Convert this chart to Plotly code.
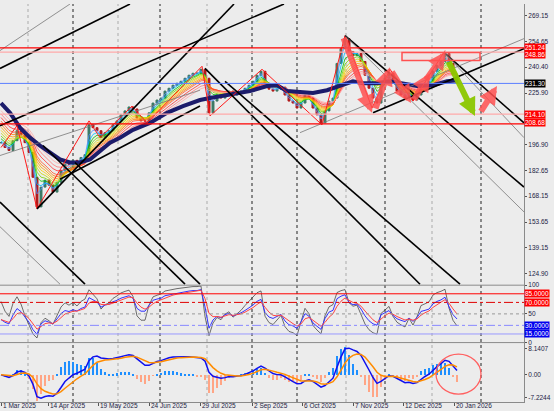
import numpy as np
import pandas as pd
import plotly.graph_objects as go
from plotly.subplots import make_subplots

# ---------------- data (bar index = trading day from 1 Mar 2025) ----------------
bar_index = list(range(0, 230, 2))
closes = [198.1, 195.4, 193.7, 199.2, 204.8, 202.6, 198.1, 192.6, 178.7, 162.1,
          173.2, 177.1, 174.3, 170.4, 175.9, 182.6, 187.0, 185.9, 188.2, 187.0,
          189.8, 191.4, 208.1, 206.5, 204.8, 200.9, 203.7, 204.8, 208.1, 210.3,
          213.7, 215.9, 218.1, 217.0, 212.0, 210.3, 210.3, 214.8, 220.3, 222.0,
          223.1, 227.0, 228.6, 230.3, 231.4, 232.5, 234.2, 235.9, 237.0, 237.0,
          239.2, 234.2, 214.8, 221.4, 224.8, 223.1, 225.9, 227.0, 224.8, 225.9,
          227.0, 228.6, 230.3, 232.5, 235.9, 238.1, 231.4, 228.1, 227.0, 228.1,
          229.2, 224.8, 221.4, 220.3, 217.5, 220.3, 224.8, 223.1, 217.5, 213.7,
          209.2, 215.9, 221.4, 223.1, 242.5, 250.8, 256.4, 249.2, 247.0, 248.1,
          243.6, 235.9, 228.6, 223.1, 220.3, 231.4, 234.2, 237.0, 231.4, 227.0,
          224.8, 223.1, 225.9, 222.0, 224.8, 230.3, 231.4, 232.5, 238.1, 241.4,
          243.6, 248.1, 242.5, 235.9, 231.3]

navy_index = [0, 4.5, 9.5, 14.5, 19.5, 24.5, 29.5, 34.5, 39.5, 44.5, 49.5, 54.5, 59.5,
              66, 74.5, 83, 91, 99.5, 104.5, 109.5, 114.5, 119.5, 124.5, 133, 138, 143,
              149.5, 156, 163, 169.5, 176, 181, 188, 194.5, 199.5, 208, 216, 223, 228.5]
navy_values = [220.3, 214.8, 206.5, 200.9, 196.5, 192.6, 188.7, 187.0, 187.0, 188.7,
               193.7, 198.1, 200.9, 205.3, 209.2, 214.8, 218.6, 222.0, 223.1, 224.2,
               224.8, 225.9, 227.0, 229.8, 230.3, 227.0, 226.4, 225.9, 227.5, 229.8,
               232.5, 231.4, 231.4, 232.5, 231.4, 229.8, 230.3, 232.5, 233.1]

date_tick_index = [0, 23.5, 48.5, 74, 99.5, 125.5, 150.5, 176, 201, 226.5]
date_tick_labels = ["1 Mar 2025", "14 Apr 2025", "19 May 2025", "24 Jun 2025", "29 Jul 2025",
                    "2 Sep 2025", "6 Oct 2025", "7 Nov 2025", "12 Dec 2025", "20 Jan 2026"]

price_ticks = [269.15, 254.65, 240.40, 225.90, 196.90, 182.65, 168.15, 153.65, 139.15, 124.90]
level_lines = {"251.24": 251.24, "248.86": 248.86, "214.10": 214.10, "208.68": 208.68}
level_label_shift = {"251.24": 0, "248.86": -2, "214.10": 0, "208.68": 1}
last_price = 231.30
osc_levels = [85, 70, 50, 30, 15]
macd_ticks = [8.1407, 0.0, -7.2244]

sep_dark = [36, 79.5, 125.5, 148, 192, 240]
sep_light = [13.5, 58.5, 103, 172.5, 215.5]

# trendlines: (idx0, price0, idx1, price1)
thick_lines = [(-0.5, 207.6, 141.5, 275.8), (18, 161.0, 116.5, 275.8), (186, 214.8, 261.5, 250.8),
               (29.5, 177.6, 99.5, 218.6), (-0.5, 239.7, 64.5, 275.8),
               (21, 196.5, 92, 118.8), (172, 258.1, 261.5, 173.2), (222, 248.1, 261.5, 209.2),
               (102, 239.7, 209.5, 118.8), (112, 232.5, 229.5, 118.8),
               (-0.5, 164.8, 42, 118.8), (37, 187.0, 99.5, 118.8)]
thin_lines = [(-0.5, 190.9, 99.5, 227.5), (172, 258.1, 261.5, 159.3), (222, 248.1, 261.5, 200.9),
              (149.5, 203.7, 261.5, 256.4), (-0.5, 249.7, 34.5, 275.8), (-0.5, 151.0, 29.5, 118.8)]

zig_index = [0, 8, 18, 44, 49.5, 65.5, 73, 100.5, 104.5, 130.5, 160.5, 172, 185.5, 194.5, 206, 222]
zig_price = [195.4, 207.6, 161.0, 210.3, 200.9, 218.6, 209.2, 240.9, 213.1, 239.2, 208.1,
             258.1, 217.5, 239.2, 221.4, 249.7]

# arrows: (tail_idx, tail_price, head_idx, head_price, colour)
arrows = [(171, 257.5, 185.5, 214.8, "red"), (187, 216.4, 194.5, 240.3, "red"),
          (195, 238.6, 205, 220.3, "red"), (206, 221.4, 214.5, 237.0, "red"),
          (212, 232.5, 222.5, 249.2, "red"), (223.5, 244.2, 237, 213.1, "green"),
          (239.5, 214.8, 248, 229.8, "red")]
box_zone = (200.5, 239.5, 244.2, 248.6)
circle_zone = (217.5, 240, -6.1, 6.45)

# ---------------- derived indicators ----------------
c = np.array(closes)
opens = np.concatenate([[c[0]], c[:-1]])
highs = np.maximum(opens, c)
lows = np.minimum(opens, c)

def ema(arr, span, seed):
    a = 2.0 / (span + 1)
    out, e = [], seed
    for v in arr:
        e = e + a * (v - e)
        out.append(e)
    return np.array(out)

def rsi(arr, n):
    d = np.diff(arr, prepend=arr[0])
    up, dn = np.clip(d, 0, None), np.clip(-d, 0, None)
    au, ad = up[1:n + 1].mean() + 1e-9, dn[1:n + 1].mean() + 1e-9
    out = []
    for u, w in zip(up, dn):
        au = (au * (n - 1) + u) / n
        ad = (ad * (n - 1) + w) / n
        out.append(100 - 100 / (1 + au / ad))
    return np.array(out)

ribbon_spans = [2, 3, 4, 5, 6, 7, 8, 9, 10, 12, 14, 16]
ribbon_colors = ["#4f8dff", "#00bfff", "#00c000", "#7ad400", "#c8d800", "#ffd000",
                 "#ffa500", "#ff8000", "#ff5a30", "#ff3030", "#ff7a7a", "#ffaaaa"]

rsi_fast = rsi(c, 4)
rsi_mid = rsi(c, 7)
rsi_slow = ema(rsi_mid, 3, rsi_mid[0])

macd_line = ema(c, 6, c[0]) - ema(c, 13, c[0])
signal_line = ema(macd_line, 5, 0.0)
hist = (macd_line - signal_line) * 2

# ---------------- figure ----------------
BG = "#ececec"
fig = make_subplots(rows=3, cols=1, shared_xaxes=True, vertical_spacing=0,
                    row_heights=[284, 58, 60])

for k, (sp, col) in enumerate(zip(ribbon_spans, ribbon_colors)):
    seed = navy_values[0] + (c[0] - navy_values[0]) * (1 - k / len(ribbon_spans))
    fig.add_trace(go.Scatter(x=bar_index, y=ema(c, sp, seed), mode="lines",
                             line=dict(color=col, width=0.8), hoverinfo="skip"), 1, 1)

fig.add_trace(go.Scatter(x=navy_index, y=navy_values, mode="lines",
                         line=dict(color="#1c1c6b", width=4)), 1, 1)

fig.add_trace(go.Candlestick(x=bar_index, open=opens, high=highs, low=lows, close=c,
                             increasing=dict(line=dict(color="#3d7a66", width=1), fillcolor="#3d7a66"),
                             decreasing=dict(line=dict(color="#b01c1c", width=1), fillcolor="#b01c1c"),
                             whiskerwidth=0), 1, 1)

fig.add_trace(go.Scatter(x=zig_index, y=zig_price, mode="lines",
                         line=dict(color="#ff1a1a", width=1)), 1, 1)

# oscillator panel
fig.add_trace(go.Scatter(x=bar_index, y=rsi_fast, mode="lines", line=dict(color="#333333", width=0.7)), 2, 1)
fig.add_trace(go.Scatter(x=bar_index, y=rsi_mid, mode="lines", line=dict(color="#3333ff", width=1)), 2, 1)
fig.add_trace(go.Scatter(x=bar_index, y=rsi_slow, mode="lines", line=dict(color="#ff4444", width=1)), 2, 1)

# macd panel
fig.add_trace(go.Bar(x=bar_index, y=hist, marker_color=["#1e8fff" if h >= 0 else "#ffa585" for h in hist],
                     marker_line_width=0, width=1.0), 3, 1)
fig.add_trace(go.Scatter(x=bar_index, y=macd_line, mode="lines", line=dict(color="#1010ee", width=1.5)), 3, 1)
fig.add_trace(go.Scatter(x=bar_index, y=signal_line, mode="lines", line=dict(color="#ff8c00", width=1.5)), 3, 1)

shapes = []
for x in sep_dark:
    shapes.append(dict(type="line", xref="x", yref="paper", x0=x, x1=x, y0=0, y1=1,
                       line=dict(color="#222222", width=1, dash="dot"), layer="below"))
for x in sep_light:
    shapes.append(dict(type="line", xref="x", yref="paper", x0=x, x1=x, y0=0, y1=1,
                       line=dict(color="#aaaaaa", width=1, dash="dot"), layer="below"))

for (x0, y0, x1, y1) in thick_lines:
    shapes.append(dict(type="line", xref="x", yref="y", x0=x0, y0=y0, x1=x1, y1=y1,
                       line=dict(color="black", width=1.6)))
for (x0, y0, x1, y1) in thin_lines:
    shapes.append(dict(type="line", xref="x", yref="y", x0=x0, y0=y0, x1=x1, y1=y1,
                       line=dict(color="#777777", width=0.8)))

lv_colors = {"251.24": "#ff0000", "248.86": "#ffaaaa", "214.10": "#ffaaaa", "208.68": "#ff0000"}
for k, v in level_lines.items():
    shapes.append(dict(type="line", xref="x domain", yref="y", x0=0, x1=1, y0=v, y1=v,
                       line=dict(color=lv_colors[k], width=1.3)))
shapes.append(dict(type="line", xref="x domain", yref="y", x0=0, x1=1, y0=last_price, y1=last_price,
                   line=dict(color="#5b7fff", width=1)))

shapes.append(dict(type="rect", xref="x", yref="y", x0=box_zone[0], x1=box_zone[1],
                   y0=box_zone[2], y1=box_zone[3], line=dict(color="#ff5050", width=1.5),
                   fillcolor="rgba(255,200,200,0.25)"))

osc_styles = {85: ("#ff0000", "solid"), 70: ("#e00000", "dashdot"), 50: ("#999999", "dot"),
              30: ("#8888ff", "dashdot"), 15: ("#9999ff", "solid")}
for lv in osc_levels:
    col, dash = osc_styles[lv]
    shapes.append(dict(type="line", xref="x2 domain", yref="y2", x0=0, x1=1, y0=lv, y1=lv,
                       line=dict(color=col, width=1, dash=dash)))

shapes.append(dict(type="circle", xref="x3", yref="y3", x0=circle_zone[0], x1=circle_zone[1],
                   y0=circle_zone[2], y1=circle_zone[3], line=dict(color="#ff6060", width=1.3)))

# panel separators
for yd in [0.2935, 0.1493]:
    shapes.append(dict(type="line", xref="paper", yref="paper", x0=0, x1=1, y0=yd, y1=yd,
                       line=dict(color="#8a8a8a", width=1)))

annotations = []
for (tx, ty, hx, hy, col) in arrows:
    colr = "rgba(255,80,80,0.85)" if col == "red" else "rgba(140,200,0,0.95)"
    annotations.append(dict(x=hx, y=hy, ax=tx, ay=ty, xref="x", yref="y", axref="x", ayref="y",
                            text="", showarrow=True, arrowhead=2, arrowsize=0.6,
                            arrowwidth=6, arrowcolor=colr))

FONT = "Liberation Sans"
FS = 6.5
for k, v in level_lines.items():
    annotations.append(dict(x=1, y=v, xref="paper", yref="y", xanchor="left", xshift=0,
                            yshift=level_label_shift[k],
                            text=k, showarrow=False, bgcolor="#ff0000",
                            font=dict(color="white", size=FS, family=FONT), borderpad=0))
annotations.append(dict(x=1, y=last_price, xref="paper", yref="y", xanchor="left",
                        text="231.30", showarrow=False, bgcolor="black",
                        font=dict(color="white", size=FS, family=FONT), borderpad=0))
osc_label_bg = {85: "#ff0000", 70: "#ff0000", 30: "#0000ee", 15: "#0000ee"}
for lv, bgc in osc_label_bg.items():
    annotations.append(dict(x=1, y=lv, xref="paper", yref="y2", xanchor="left",
                            text=f"{lv:.4f}", showarrow=False, bgcolor=bgc,
                            font=dict(color="white", size=FS, family=FONT), borderpad=0))

for xi, lab in zip(date_tick_index, date_tick_labels):
    annotations.append(dict(x=xi, y=0, xref="x3", yref="paper", xanchor="left", yanchor="top",
                            xshift=1, yshift=1, text=lab, showarrow=False, borderpad=0,
                            font=dict(color="#222244", size=FS, family=FONT)))

axis_font = dict(color="#222244", size=FS, family=FONT)
fig.update_layout(width=554, height=411, margin=dict(l=0, r=30, t=0, b=9),
                  paper_bgcolor=BG, plot_bgcolor=BG, showlegend=False,
                  shapes=shapes, annotations=annotations, bargap=0)

for r in (1, 2, 3):
    fig.update_xaxes(row=r, col=1, range=[-0.5, 261.5], showgrid=False, zeroline=False,
                     rangeslider_visible=False, showticklabels=False,
                     showline=False)
fig.update_xaxes(row=3, col=1, tickvals=date_tick_index, ticktext=[""] * len(date_tick_index),
                 ticks="outside", ticklen=3, tickcolor="#555555", showline=True, linecolor="#8a8a8a")

yax_common = dict(side="right", showgrid=False, zeroline=False, showline=True, linecolor="#8a8a8a",
                  ticks="outside", ticklen=2, tickcolor="#555555", tickfont=axis_font)
fig.update_yaxes(row=1, col=1, range=[118.25, 275.8], tickvals=price_ticks,
                 ticktext=[f"{v:.2f}" for v in price_ticks], **yax_common)
fig.update_yaxes(row=2, col=1, range=[0, 100], tickvals=[100, 50, 0],
                 ticktext=["100", "50", "0"], **yax_common)
fig.update_yaxes(row=3, col=1, range=[-8.6, 10.1], tickvals=macd_ticks,
                 ticktext=["8.1407", "0.00", "-7.2244"], **yax_common)

fig.write_html("out.html", config={"displayModeBar": False},
               post_script="document.body.style.margin='0';document.body.style.overflow='hidden';")
